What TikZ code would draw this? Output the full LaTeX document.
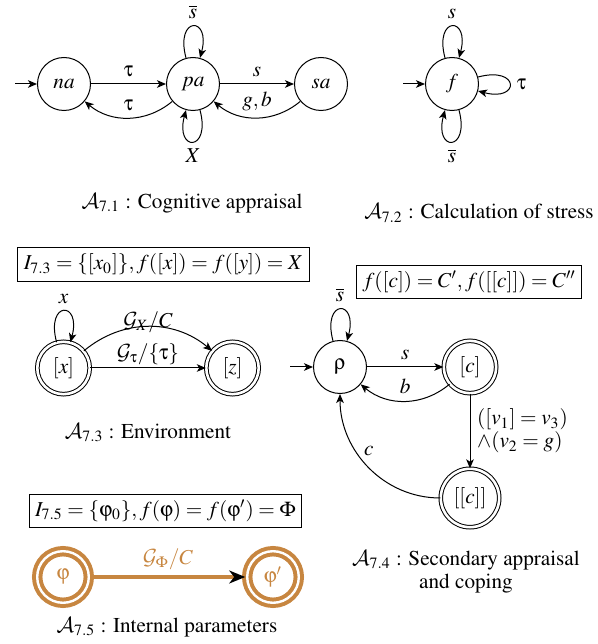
\documentclass[tikz,border=0pt]{standalone}
\usepackage[T1]{fontenc}
\usepackage{mathptmx}
\DeclareSymbolFont{upgr}{U}{psy}{m}{n}
\DeclareMathSymbol{\tau}{\mathalpha}{upgr}{`t}
\DeclareMathSymbol{\rho}{\mathalpha}{upgr}{`r}
\DeclareMathSymbol{\varphi}{\mathalpha}{upgr}{`j}
\DeclareMathAlphabet{\mycal}{OMS}{cmsy}{m}{n}
\usetikzlibrary{arrows.meta}
\definecolor{phicol}{RGB}{199,134,64}
\begin{document}
\begin{tikzpicture}[x=0.5pt,y=0.5pt,
  font=\fontsize{10.6}{12.7}\selectfont,
  >={Stealth[length=4.5pt,width=3.8pt,inset=1.2pt]},
  st/.style={circle,draw,line width=0.5pt,minimum size=26.5pt,inner sep=0pt},
  acc/.style={st,double,double distance=1.3pt,minimum size=26.2pt},
  accbig/.style={acc,minimum size=29.2pt},
  infobox/.style={draw,line width=0.5pt,inner sep=3pt},
  arr/.style={->,line width=0.5pt},
  phinode/.style={circle,draw=phicol,text=phicol,line width=2pt,double=white,double distance=1.2pt,minimum size=25.8pt,inner sep=0pt},
  phiarr/.style={draw=phicol,line width=1.6pt,-{Stealth[length=8pt,width=6.5pt,inset=2.5pt,black]}},
  caption/.style={inner sep=0pt}
]
\useasboundingbox (0,0) rectangle (598,644);

% A7.1
\node[st] (na) at (64,560) {$na$};
\node[st] (pa) at (193,560) {$pa$};
\node[st] (sa) at (321,560) {$sa$};
\coordinate (na0) at (15,560);
\draw[arr] (na0) -- (na);
\draw[arr] (na) -- node[above] {$\tau$} (pa);
\draw[arr] (pa) to[bend left=40] node[above] {$\tau$} (na);
\draw[arr] (pa) -- node[above] {$s$} (sa);
\draw[arr] (sa) to[bend left=40] node[above] {$g,b$} (pa);
\draw[arr] (pa) to[loop above] node[above] {$\overline{s}$} (pa);
\draw[arr] (pa) to[loop below] node[below] {$X$} (pa);
\node[caption] (cap1) at (192,441) {$\mycal{A}_{7.1}$ : Cognitive appraisal};

% A7.2
\node[st] (f) at (452,560) {$f$};
\coordinate (f0) at (403,560);
\draw[arr] (f0) -- (f);
\draw[arr] (f) to[loop above] node[above] {$s$} (f);
\draw[arr] (f) to[loop right] node[right] {$\tau$} (f);
\draw[arr] (f) to[loop below] node[below] {$\overline{s}$} (f);
\node[caption] (cap2) at (479,431) {$\mycal{A}_{7.2}$ : Calculation of stress};

% A7.3
\node[infobox] (box3) at (163.5,379.5) {$I_{7.3}=\{[x_0]\},f([x])=f([y])=X$};
\node[acc] (x) at (63.5,276) {$[x]$};
\node[acc] (z) at (232.5,276) {$[z]$};
\draw[arr] (x) to[loop above] node[above] {$x$} (x);
\draw[arr] (x) to[bend left=40] node[above,yshift=-6.5pt] {$\mycal{G}_X/C$} (z);
\draw[arr] (x) -- node[above,yshift=-2pt] {$\mycal{G}_\tau/\{\tau\}$} (z);
\node[caption] (cap3) at (148,211) {$\mycal{A}_{7.3}$ : Environment};

% A7.4
\node[infobox] (box4) at (469,362) {$f([c])=C',f([[c]])=C''$};
\node[st] (rho) at (340,277) {$\rho$};
\node[acc] (c1) at (470,277) {$[c]$};
\node[accbig] (c2) at (470,146) {$[[c]]$};
\coordinate (rho0) at (290,277);
\draw[arr] (rho0) -- (rho);
\draw[arr] (rho) to[loop above] node[above] {$\overline{s}$} (rho);
\draw[arr] (rho) -- node[above] {$s$} (c1);
\draw[arr] (c1) to[bend left=40] node[above] {$b$} (rho);
\draw[arr] (c1) -- node[right,align=left,font=\fontsize{10.6}{11.5}\selectfont] {$([v_1]=v_3)$\\$\wedge(v_2=g)$} (c2);
\draw[arr] (c2) to[out=180,in=270] node[above=2pt] {$c$} (rho);
\node[caption,align=center,font=\fontsize{10.6}{11.5}\selectfont] (cap4) at (466,72) {$\mycal{A}_{7.4}$ : Secondary appraisal\\and coping};

% A7.5
\node[infobox] (box5) at (165.5,133) {$I_{7.5}=\{\varphi_0\},f(\varphi)=f(\varphi')=\Phi$};
\node[phinode] (phi) at (63,67) {$\varphi$};
\node[phinode] (phi2) at (273,67) {$\varphi'$};
\draw[phiarr] (phi) -- node[above,yshift=-0.5pt,text=phicol] {$\mycal{G}_\Phi/C$} (phi2);
\node[caption] (cap5) at (167,17) {$\mycal{A}_{7.5}$ : Internal parameters};
\end{tikzpicture}
\end{document}
